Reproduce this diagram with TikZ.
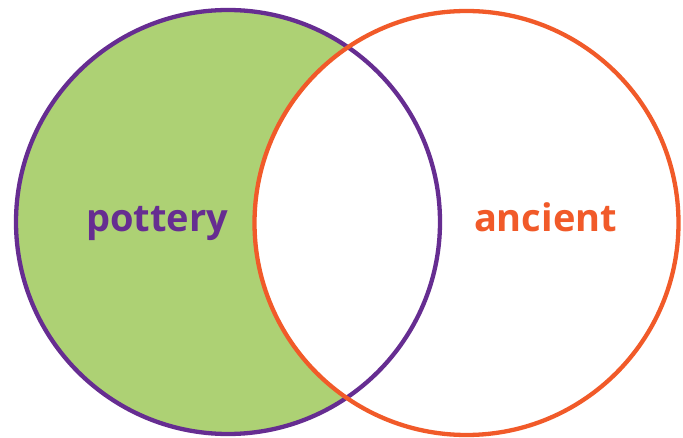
\documentclass[tikz,border=0pt]{standalone}
\usepackage{fontspec}
\newfontfamily\labelfont{Open Sans}
\definecolor{vpurple}{HTML}{662D91}
\definecolor{vorange}{HTML}{F15A29}
\definecolor{vgreen}{HTML}{ADD174}
\tikzset{
  ring/.style={line width=4.3pt},
  vlabel/.style={font=\labelfont\bfseries\fontsize{38}{38}\selectfont, anchor=base, inner sep=0pt}
}
\begin{document}
\begin{tikzpicture}[x=1pt,y=-1pt]
\useasboundingbox (0,0) rectangle (683,438);
\coordinate (cl) at (228,222);
\coordinate (cr) at (466.5,223);
\fill[vgreen] (cl) circle (212);
\fill[white] (cr) circle (212);
\draw[ring, vpurple] (cl) circle (212);
\draw[ring, vorange] (cr) circle (212);
\node[vlabel, text=vpurple] (pottery) at (157,232) {pottery};
\node[vlabel, text=vorange] (ancient) at (545.5,232) {ancient};
\end{tikzpicture}
\end{document}
